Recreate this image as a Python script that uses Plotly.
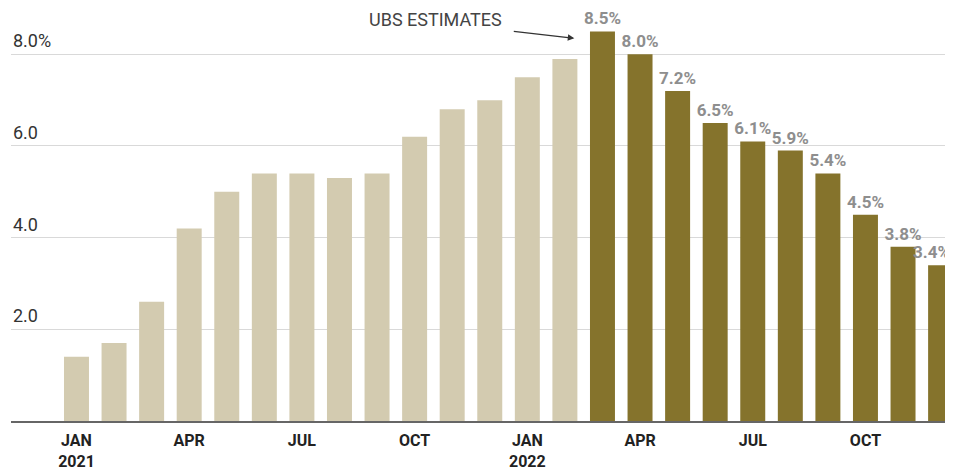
import plotly.graph_objects as go

months = ["2021-01","2021-02","2021-03","2021-04","2021-05","2021-06","2021-07","2021-08",
          "2021-09","2021-10","2021-11","2021-12","2022-01","2022-02","2022-03","2022-04",
          "2022-05","2022-06","2022-07","2022-08","2022-09","2022-10","2022-11","2022-12"]
actual_values = [1.4, 1.7, 2.6, 4.2, 5.0, 5.4, 5.4, 5.3, 5.4, 6.2, 6.8, 7.0, 7.5, 7.9]
estimate_values = [8.5, 8.0, 7.2, 6.5, 6.1, 5.9, 5.4, 4.5, 3.8, 3.4]
estimate_labels = ["8.5%", "8.0%", "7.2%", "6.5%", "6.1%", "5.9%", "5.4%", "4.5%", "3.8%", "3.4%"]
xtick_vals = ["2021-01", "2021-04", "2021-07", "2021-10", "2022-01", "2022-04", "2022-07", "2022-10"]
xtick_text = ["JAN<br>2021", "APR", "JUL", "OCT", "JAN<br>2022", "APR", "JUL", "OCT"]
ytick_vals = [2, 4, 6, 8]
ytick_text = ["2.0", "4.0", "6.0", "8.0%"]

label_font = dict(family="Roboto", size=17, color="#8e8e8e", weight="bold")
n_act = len(actual_values)
fig = go.Figure()
fig.add_trace(go.Bar(x=months[:n_act], y=actual_values, marker_color="#d3cbb0",
                     marker_line_width=0, hoverinfo="skip"))
# last label is placed as an annotation so it stays inside the right edge
bar_texts = estimate_labels[:-1] + [""]
fig.add_trace(go.Bar(x=months[n_act:], y=estimate_values, marker_color="#85732c",
                     marker_line_width=0, text=bar_texts, textposition="outside",
                     constraintext="none", textfont=label_font,
                     cliponaxis=False, hoverinfo="skip"))

annotations = []
for v, t in zip(ytick_vals, ytick_text):
    annotations.append(dict(xref="paper", yref="y", x=0, y=v, text=t, showarrow=False,
                            xanchor="left", yanchor="bottom", yshift=1,
                            font=dict(family="Roboto", size=18, color="#333333")))
annotations.append(dict(xref="x", yref="y", x=months[-1], y=estimate_values[-1],
                        text=estimate_labels[-1], showarrow=False, xanchor="center",
                        yanchor="bottom", xshift=-9, yshift=1, font=label_font))
annotations.append(dict(xref="x", yref="y", x=9.55, y=8.75, text="UBS ESTIMATES",
                        showarrow=False, xanchor="center", yanchor="middle",
                        font=dict(family="Roboto", size=18, color="#444444")))
annotations.append(dict(xref="x", yref="y", x=13.25, y=8.35, text="", showarrow=True,
                        ax=-62, ay=-7, arrowhead=2, arrowsize=1, arrowwidth=1.3,
                        arrowcolor="#333333"))

fig.update_layout(
    width=945, height=463,
    margin=dict(l=3, r=0, t=0, b=50),
    plot_bgcolor="white", paper_bgcolor="white",
    showlegend=False, bargap=0.335, barmode="overlay",
    annotations=annotations,
    xaxis=dict(type="category", categoryorder="array", categoryarray=months,
               range=[-1.743, 23.33], tickmode="array", tickvals=xtick_vals,
               ticktext=xtick_text, showgrid=False, showline=True, linecolor="#666666",
               linewidth=2, ticks="", ticklabelstandoff=4, automargin=False,
               tickfont=dict(family="Roboto", size=16, color="#222222", weight="bold")),
    yaxis=dict(range=[0, 9.01], tickmode="array", tickvals=ytick_vals, showticklabels=False,
               showgrid=True, gridcolor="#d9d9d9", gridwidth=1, zeroline=False, showline=False,
               automargin=False),
)
fig.write_html("out.html")
